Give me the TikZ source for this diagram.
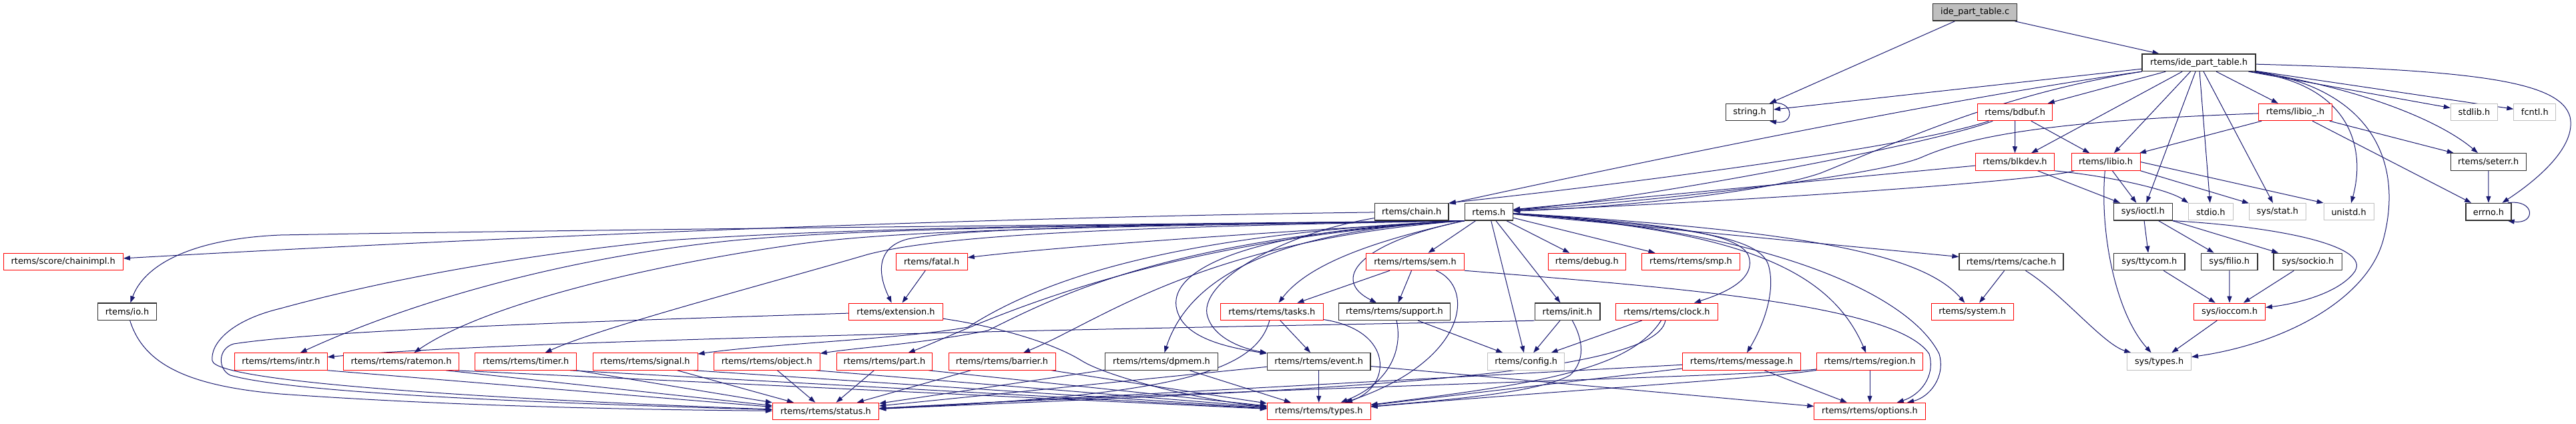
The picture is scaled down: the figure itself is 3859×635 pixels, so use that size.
\documentclass[tikz,border=0pt]{standalone}
\usepackage{fontspec}
\newfontfamily\dvs{DejaVu Sans}
\usetikzlibrary{arrows.meta}
\definecolor{edgeblue}{HTML}{191970}
\definecolor{dkgray}{HTML}{303030}
\definecolor{ltgray}{HTML}{BFBFBF}
\definecolor{rootfill}{HTML}{BFBFBF}
\definecolor{redb}{HTML}{FF0000}
\pgfdeclarelayer{bg}
\pgfsetlayers{bg,main}
\begin{document}
\begin{tikzpicture}[x=1bp,y=-1bp,
  nb/.style={draw=#1, fill=white, line width=1bp, minimum height=25.5bp, inner sep=0pt,
    font=\dvs\fontsize{12.9bp}{15bp}\selectfont, text=black},
  rn/.style={nb=redb},
  kn/.style={nb=dkgray, line width=1.3bp},
  gn/.style={nb=ltgray},
  rootn/.style={nb=dkgray, fill=rootfill, line width=1.3bp},
  edg/.style={draw=edgeblue, line width=1bp, -{Triangle[length=10bp,width=7bp]}}]
\useasboundingbox (0,0) rectangle (3859,635);
% row 0-3
\node[rootn, minimum width=126.2bp] (root) at (2958.6,18.4) {ide\_part\_table.c};
\node[kn, minimum width=169.8bp] (ideh) at (3294,93.8) {rtems/ide\_part\_table.h};
\node[kn, minimum width=70.7bp] (str) at (2621,168) {string.h};
\node[rn, minimum width=111.5bp] (bdbuf) at (3018.6,168) {rtems/bdbuf.h};
\node[rn, minimum width=110.5bp] (libiou) at (3438.5,168) {rtems/libio\_.h};
\node[gn, minimum width=70.6bp] (stdlib) at (3706.5,168) {stdlib.h};
\node[gn, minimum width=63bp] (fcntl) at (3797.3,168) {fcntl.h};
\node[rn, minimum width=117.9bp] (blkdev) at (3018.4,242.5) {rtems/blkdev.h};
\node[rn, minimum width=103bp] (libio) at (3154.5,242.5) {rtems/libio.h};
\node[kn, minimum width=113bp] (seterr) at (3727.7,242.5) {rtems/seterr.h};
% row 4
\node[kn, minimum width=110.7bp] (chain) at (2114.7,317.2) {rtems/chain.h};
\node[kn, minimum width=72bp] (rtems) at (2230.4,317.2) {rtems.h};
\node[kn, minimum width=87.7bp] (ioctl) at (3210.4,317.2) {sys/ioctl.h};
\node[gn, minimum width=66.4bp] (stdio) at (3311.8,317.2) {stdio.h};
\node[gn, minimum width=84.9bp] (stat) at (3411.9,317.2) {sys/stat.h};
\node[gn, minimum width=74.8bp] (unistd) at (3518.6,317.2) {unistd.h};
\node[kn, minimum width=68bp] (errno) at (3728,317.2) {errno.h};
% row 5
\node[rn, minimum width=179.3bp] (chainimpl) at (94.7,392) {rtems/score/chainimpl.h};
\node[rn, minimum width=107bp] (fatal) at (1395.7,392) {rtems/fatal.h};
\node[rn, minimum width=147.3bp] (sem) at (2120,392) {rtems/rtems/sem.h};
\node[rn, minimum width=116.6bp] (debug) at (2377.3,392) {rtems/debug.h};
\node[rn, minimum width=146.7bp] (smp) at (2533,392) {rtems/rtems/smp.h};
\node[kn, minimum width=156bp] (cache) at (3013,392) {rtems/rtems/cache.h};
\node[kn, minimum width=106.6bp] (ttycom) at (3219.8,392) {sys/ttycom.h};
\node[kn, minimum width=84.5bp] (filio) at (3339.7,392) {sys/filio.h};
\node[kn, minimum width=102.5bp] (sockio) at (3457.3,392) {sys/sockio.h};
% row 6
\node[kn, minimum width=88bp] (io) at (190.5,466.8) {rtems/io.h};
\node[rn, minimum width=140.4bp] (ext) at (1342,466.8) {rtems/extension.h};
\node[rn, minimum width=153.8bp] (tasks) at (1905.4,466.8) {rtems/rtems/tasks.h};
\node[kn, minimum width=166.7bp] (support) at (2089,466.8) {rtems/rtems/support.h};
\node[kn, minimum width=97.7bp] (init) at (2348,466.8) {rtems/init.h};
\node[rn, minimum width=152.4bp] (clock) at (2497,466.8) {rtems/rtems/clock.h};
\node[rn, minimum width=123.3bp] (system) at (2954.7,466.8) {rtems/system.h};
\node[rn, minimum width=106.7bp] (ioccom) at (3340,466.8) {sys/ioccom.h};
% row 7
\node[rn, minimum width=138.5bp] (intr) at (421,541.5) {rtems/rtems/intr.h};
\node[rn, minimum width=173.2bp] (ratemon) at (601,541.5) {rtems/rtems/ratemon.h};
\node[rn, minimum width=152.3bp] (timer) at (787.7,541.5) {rtems/rtems/timer.h};
\node[rn, minimum width=157bp] (signal) at (966.5,541.5) {rtems/rtems/signal.h};
\node[rn, minimum width=159bp] (object) at (1148.8,541.5) {rtems/rtems/object.h};
\node[rn, minimum width=143.7bp] (part) at (1325,541.5) {rtems/rtems/part.h};
\node[rn, minimum width=160bp] (barrier) at (1501,541.5) {rtems/rtems/barrier.h};
\node[kn, minimum width=168.4bp] (dpmem) at (1740,541.5) {rtems/rtems/dpmem.h};
\node[kn, minimum width=154.7bp] (event) at (1975.7,541.5) {rtems/rtems/event.h};
\node[gn, minimum width=114.5bp] (config) at (2286.2,541.5) {rtems/config.h};
\node[rn, minimum width=177.4bp] (message) at (2609,541.5) {rtems/rtems/message.h};
\node[rn, minimum width=158.7bp] (region) at (2801,541.5) {rtems/rtems/region.h};
\node[gn, minimum width=95.7bp] (systypes) at (3234.6,541.5) {sys/types.h};
% row 8
\node[rn, minimum width=159.3bp] (status) at (1237,616) {rtems/rtems/status.h};
\node[rn, minimum width=154.7bp] (types) at (1975.7,616) {rtems/rtems/types.h};
\node[rn, minimum width=166.3bp] (options) at (2801,616) {rtems/rtems/options.h};

\begin{pgfonlayer}{bg}
% root and ide_part_table.h
\draw[edg] (root) -- (str);
\draw[edg] (root) -- (ideh);
\draw[edg] (ideh) -- (str);
\draw[edg] (ideh.south west) .. controls (2900,150) and (2400,255) .. (chain);
\draw[edg] (ideh) .. controls (3000,140) and (2850,210) .. (2728,259) .. controls (2640,290) and (2400,312) .. (rtems);
\draw[edg] (ideh) -- (bdbuf);
\draw[edg] (ideh) -- (blkdev);
\draw[edg] (ideh) -- (libio);
\draw[edg] (ideh) -- (libiou);
\draw[edg] (ideh) -- (ioctl);
\draw[edg] (ideh) -- (stdio);
\draw[edg] (ideh) -- (stat);
\draw[edg] ([xshift=-10bp]ideh.south east) .. controls (3520,125) and (3545,220) .. (unistd);
\draw[edg] (ideh) .. controls (3560,135) and (3600,250) .. (3570,360) .. controls (3545,450) and (3420,515) .. (systypes);
\draw[edg] (ideh) -- (stdlib);
\draw[edg] (ideh) -- (fcntl);
\draw[edg] (ideh) .. controls (3550,135) and (3660,185) .. (seterr);
\draw[edg] (ideh) .. controls (3700,105) and (3835,120) .. (3850,175) .. controls (3860,220) and (3800,270) .. (errno);
\draw[edg] ([xshift=-6bp]str.north east) .. controls +(38,-6) and +(38,6) .. ([xshift=-6bp]str.south east);
% bdbuf, libio_, blkdev, libio
\draw[edg] (bdbuf) -- (blkdev);
\draw[edg] (bdbuf) -- (libio);
\draw[edg] (bdbuf) .. controls (2900,215) and (2450,300) .. (rtems);
\draw[edg] (bdbuf) .. controls (2850,225) and (2350,285) .. (chain.north east);
\draw[edg] (libiou) -- (libio);
\draw[edg] (libiou) .. controls (3100,180) and (2960,200) .. (2880,235) .. controls (2820,262) and (2500,300) .. (rtems);
\draw[edg] (libiou) -- (seterr);
\draw[edg] (libiou) -- (errno);
\draw[edg] (seterr) -- (errno);
\draw[edg] ([xshift=-6bp]errno.north east) .. controls +(42,-6) and +(42,6) .. ([xshift=-6bp]errno.south east);
\draw[edg] (blkdev) -- (rtems);
\draw[edg] (blkdev) -- (ioctl);
\draw[edg] (blkdev.south east) .. controls (3170,265) and (3250,285) .. (stdio.north west);
\draw[edg] (libio) .. controls (3050,272) and (2600,302) .. (rtems);
\draw[edg] (libio) -- (ioctl);
\draw[edg] (libio.south east) -- (stat);
\draw[edg] (libio.east) -- (unistd.north west);
\draw[edg] (libio) .. controls (3145,350) and (3170,470) .. (systypes);
% sys headers
\draw[edg] (ioctl) -- (ttycom);
\draw[edg] (ioctl) -- (filio);
\draw[edg] (ioctl) -- (sockio);
\draw[edg] (ioctl.south east) .. controls (3420,340) and (3560,370) .. (3525,410) .. controls (3500,440) and (3440,455) .. (ioccom);
\draw[edg] (ttycom) -- (ioccom);
\draw[edg] (filio) -- (ioccom);
\draw[edg] (sockio) -- (ioccom);
\draw[edg] (ioccom) -- (systypes);
\draw[edg] (cache) -- (system);
\draw[edg] (cache) .. controls (3090,440) and (3150,515) .. (systypes);
% rtems.h fan-out right
\draw[edg] (rtems) -- (sem);
\draw[edg] (rtems) -- (debug);
\draw[edg] (rtems) -- (smp);
\draw[edg] (rtems) -- (config);
\draw[edg] (rtems) -- (init);
\draw[edg] (rtems) -- (cache);
\draw[edg] (rtems) .. controls (2700,345) and (2880,380) .. (system);
\draw[edg] (rtems) .. controls (2500,335) and (2610,350) .. (2620,385) .. controls (2630,420) and (2580,440) .. (clock);
\draw[edg] (rtems) .. controls (2520,340) and (2640,352) .. (2650,400) .. controls (2660,440) and (2640,490) .. (message);
\draw[edg] (rtems) .. controls (2600,345) and (2740,400) .. (region);
\draw[edg] (rtems) .. controls (2650,345) and (2860,440) .. (2905,530) .. controls (2915,565) and (2890,595) .. (options);
% rtems.h fan-out left
\draw[edg] (rtems.south west) .. controls (2060,360) and (1960,395) .. (tasks);
\draw[edg] (rtems.south west) .. controls (2030,365) and (1995,420) .. (support);
\draw[edg] (rtems.south west) .. controls (1900,345) and (1780,420) .. (dpmem);
\draw[edg] (rtems.south west) .. controls (1850,345) and (1740,410) .. (1765,470) .. controls (1780,510) and (1850,522) .. (event);
\draw[edg] (rtems.south west) .. controls (1800,360) and (1650,480) .. (barrier);
\draw[edg] (rtems.south west) .. controls (1700,360) and (1450,495) .. (part);
\draw[edg] (rtems.south west) .. controls (1760,355) and (1590,440) .. (1480,495) .. controls (1380,515) and (1290,520) .. (object);
\draw[edg] (rtems.south west) .. controls (1750,350) and (1560,420) .. (1450,490) .. controls (1350,508) and (1150,515) .. (signal);
\draw[edg] (rtems.south west) .. controls (1700,340) and (1420,350) .. (1300,381) .. controls (1150,425) and (900,490) .. (timer);
\draw[edg] (rtems.south west) .. controls (1600,340) and (1350,345) .. (1200,365) .. controls (950,400) and (720,460) .. (ratemon);
\draw[edg] (rtems.south west) .. controls (1600,338) and (1300,342) .. (1100,360) .. controls (850,385) and (620,450) .. (intr);
\draw[edg] (rtems.south west) .. controls (1900,348) and (1600,368) .. (fatal);
\draw[edg] (rtems.south west) .. controls (1800,335) and (1450,340) .. (1360,358) .. controls (1320,368) and (1310,400) .. (ext);
\draw[edg] (rtems.south west) .. controls (1500,338) and (800,345) .. (420,352) .. controls (280,358) and (215,400) .. (io);
\draw[edg] (rtems.south west) .. controls (1600,338) and (1300,340) .. (1000,360) .. controls (700,390) and (500,440) .. (420,462) .. controls (345,480) and (315,515) .. (318,540) .. controls (322,575) and (800,600) .. (status);
% chain.h
\draw[edg] (chain) .. controls (1500,325) and (800,352) .. (chainimpl);
\draw[edg] (chain) .. controls (1920,350) and (1800,420) .. (1808,470) .. controls (1815,505) and (1860,522) .. (event);
% row 5 / 6 sources
\draw[edg] (fatal) -- (ext);
\draw[edg] (sem) -- (tasks);
\draw[edg] (sem) -- (support);
\draw[edg] (sem) .. controls (2210,430) and (2200,540) .. (types);
\draw[edg] (sem.south east) .. controls (2500,430) and (2840,455) .. (2890,530) .. controls (2900,565) and (2875,592) .. (options);
\draw[edg] (ext) .. controls (1000,478) and (500,492) .. (350,515) .. controls (326,522) and (326,553) .. (345,562) .. controls (450,592) and (900,606) .. (status);
\draw[edg] (ext) .. controls (1500,490) and (1580,515) .. (1620,540) .. controls (1660,565) and (1800,600) .. (types);
\draw[edg] (io) .. controls (215,545) and (280,578) .. (420,590) .. controls (700,610) and (1000,614) .. (status);
\draw[edg] (tasks) -- (event);
\draw[edg] (tasks) .. controls (2090,495) and (2085,580) .. (types);
\draw[edg] (tasks) .. controls (1880,560) and (1750,592) .. (status);
\draw[edg] (support) -- (config);
\draw[edg] (support) .. controls (2100,515) and (2090,570) .. (types);
\draw[edg] (init) -- (config);
\draw[edg] (init) .. controls (2372,510) and (2375,540) .. (2352,562) .. controls (2300,590) and (2150,600) .. (types);
\draw[edg] (init.south west) .. controls (2000,487) and (800,505) .. (intr);
\draw[edg] (clock) -- (config);
\draw[edg] (clock) .. controls (2440,555) and (2300,575) .. (types);
\draw[edg] (clock) .. controls (2480,570) and (1900,586) .. (status);
% row 7 sources
\draw[edg] (intr.south east) -- (status);
\draw[edg] ([xshift=-20bp]ratemon.south east) -- (status);
\draw[edg] ([xshift=-6bp]ratemon.south east) -- (types);
\draw[edg] (timer.south east) -- (status);
\draw[edg] ([xshift=-10bp]timer.south east) -- (types);
\draw[edg] (signal) -- (status);
\draw[edg] ([xshift=-6bp]signal.south east) -- (types);
\draw[edg] (object) -- (status);
\draw[edg] ([xshift=-6bp]object.south east) -- (types);
\draw[edg] (part) -- (status);
\draw[edg] ([xshift=-6bp]part.south east) -- (types);
\draw[edg] (barrier) -- (status);
\draw[edg] ([xshift=-6bp]barrier.south east) -- (types);
\draw[edg] (dpmem) -- (status);
\draw[edg] (dpmem) -- (types);
\draw[edg] (event) -- (types);
\draw[edg] (event) -- (status);
\draw[edg] (event) -- (options);
\draw[edg] (message) -- (status);
\draw[edg] (message) -- (types);
\draw[edg] (message) -- (options);
\draw[edg] (region) -- (options);
\draw[edg] (region) .. controls (2650,566) and (2300,588) .. (types);
\draw[edg] (region) .. controls (2650,563) and (1800,584) .. (status);
\end{pgfonlayer}
\end{tikzpicture}
\end{document}
